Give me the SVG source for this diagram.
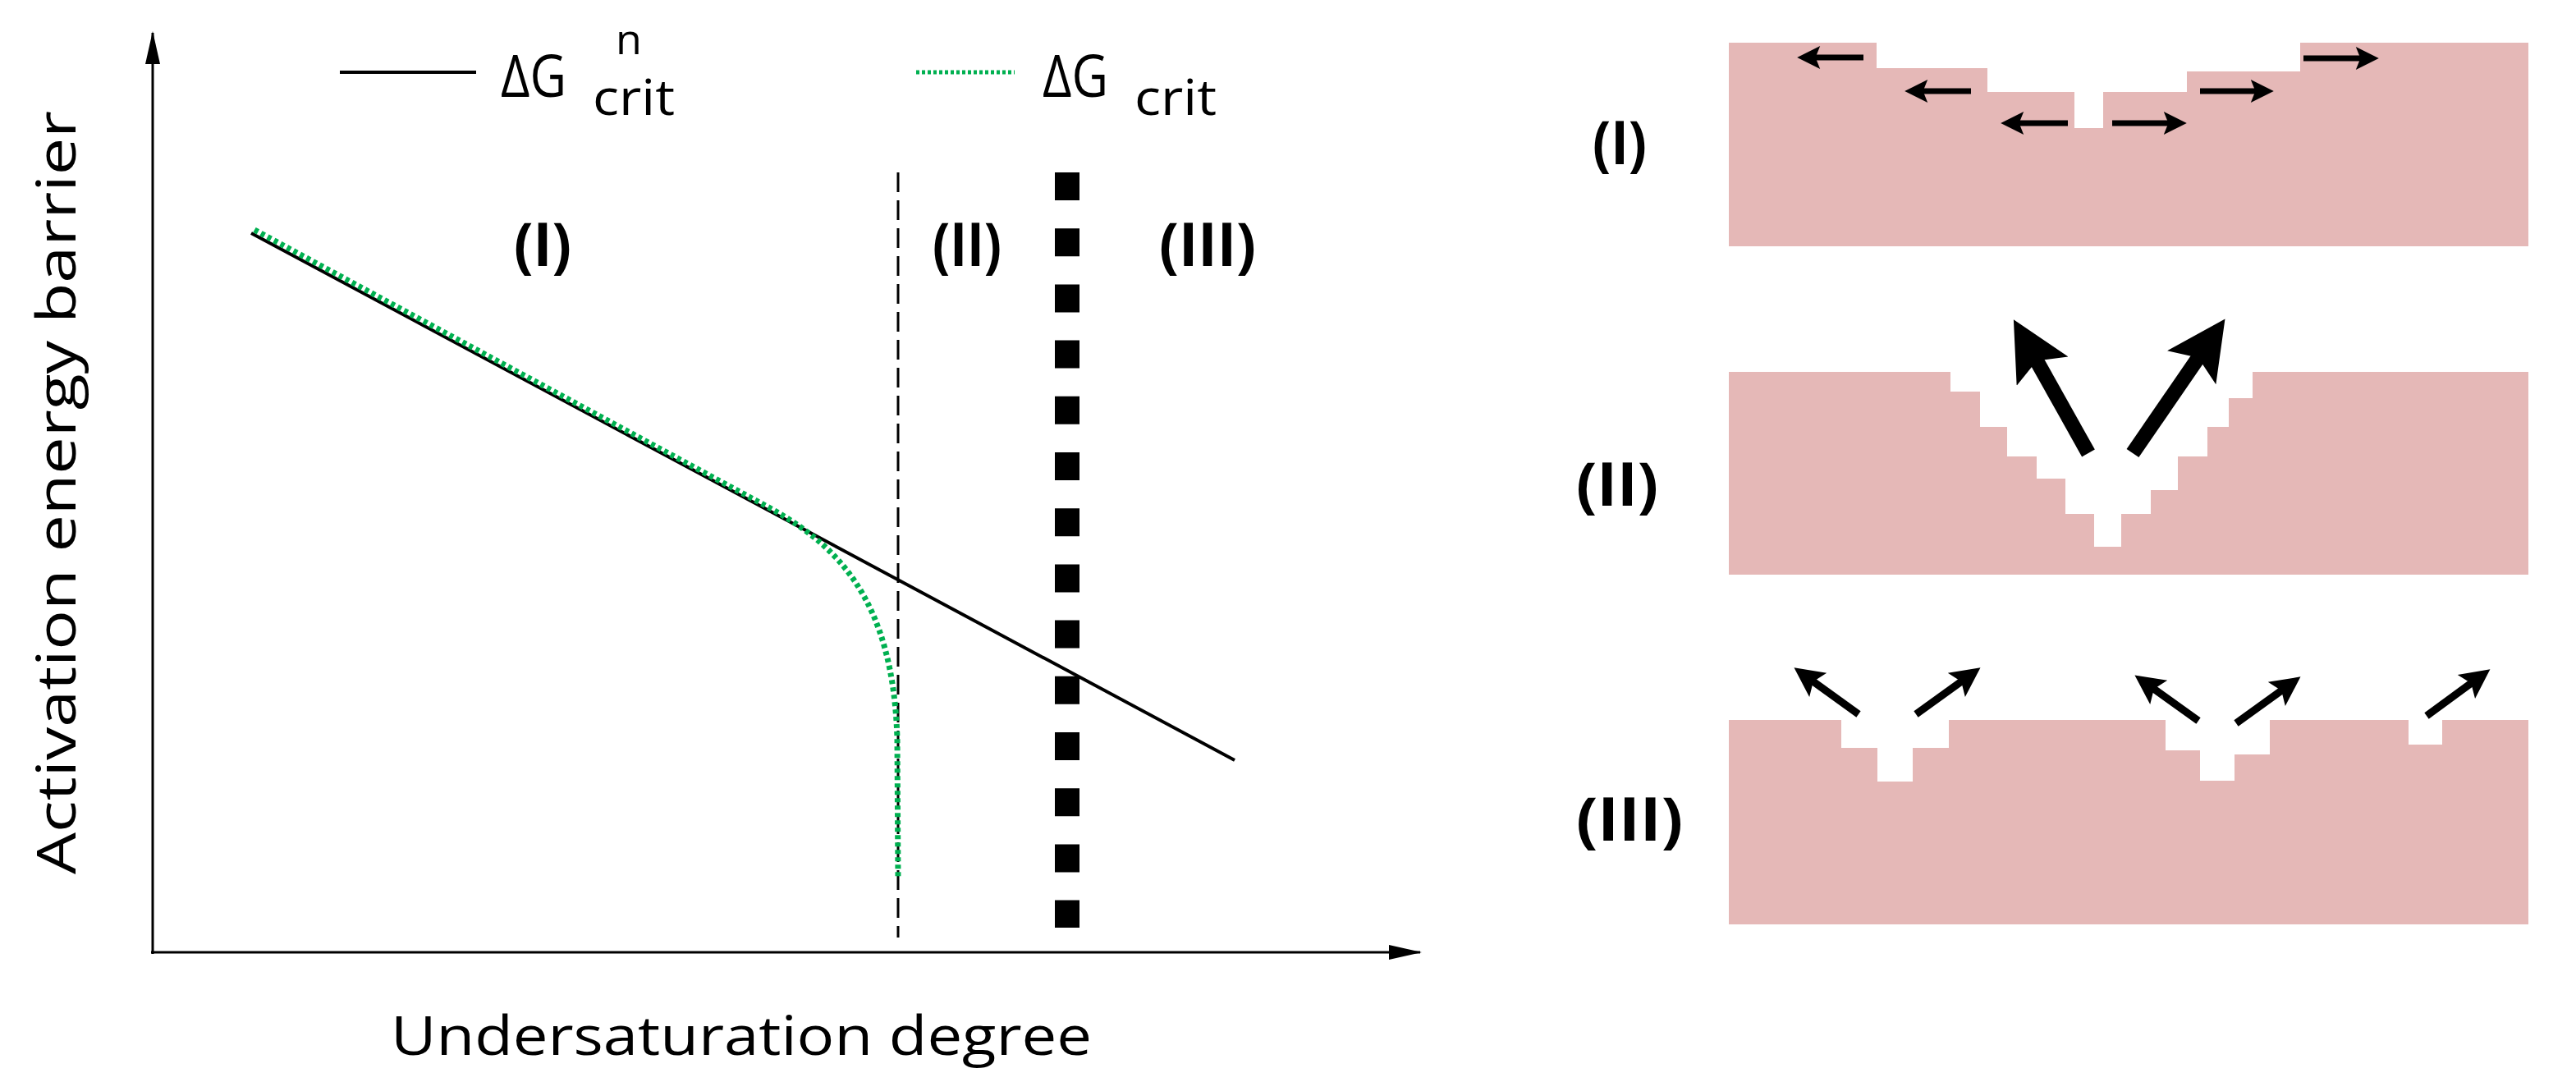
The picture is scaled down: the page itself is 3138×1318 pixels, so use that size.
<svg xmlns="http://www.w3.org/2000/svg" width="3138" height="1318" viewBox="0 0 3138 1318">
<style>
text{font-family:"Open Sans","Liberation Sans",sans-serif;fill:#000}
.lab{font-size:74px;font-weight:bold;text-anchor:middle}
.pink{fill:#E5B8B7}
.arr{stroke:#000;fill:none;marker-end:url(#ah)}
</style>
<defs>
<marker id="ah" viewBox="0 0 10 10" refX="4" refY="5" markerWidth="4.6" markerHeight="4" orient="auto" markerUnits="strokeWidth"><path d="M0,0 L10,5 L0,10 L2,5 z" fill="#000"/></marker>
<marker id="ax" viewBox="0 0 40 18" refX="38" refY="9" markerWidth="40" markerHeight="18" orient="auto" markerUnits="userSpaceOnUse"><path d="M0,0 L40,9 L0,18 z" fill="#000"/></marker>
</defs>
<g id="axes" stroke="#000" stroke-width="3">
<line x1="186" y1="1162" x2="186" y2="40" marker-end="url(#ax)"/>
<line x1="184" y1="1160" x2="1730" y2="1160" marker-end="url(#ax)"/>
</g>
<text x="70" y="600" font-size="66" text-anchor="middle" textLength="930" lengthAdjust="spacingAndGlyphs" transform="rotate(-90 70 600)" dy="22">Activation energy barrier</text>
<text x="903" y="1285" font-size="66" text-anchor="middle" textLength="854" lengthAdjust="spacingAndGlyphs">Undersaturation degree</text>
<g id="legend">
<line x1="414" y1="88" x2="580" y2="88" stroke="#000" stroke-width="4"/>
<text x="610" y="118" font-size="72" textLength="80" lengthAdjust="spacingAndGlyphs">ΔG</text>
<text x="722" y="140" font-size="60" textLength="100" lengthAdjust="spacingAndGlyphs">crit</text>
<text x="750" y="66" font-size="52">n</text>
<line x1="1116" y1="88" x2="1236" y2="88" stroke="#00B050" stroke-width="5" stroke-dasharray="4 3"/>
<text x="1270" y="118" font-size="72" textLength="80" lengthAdjust="spacingAndGlyphs">ΔG</text>
<text x="1382" y="140" font-size="60" textLength="100" lengthAdjust="spacingAndGlyphs">crit</text>
</g>
<g id="boundaries">
<line x1="1094" y1="210" x2="1094" y2="1142" stroke="#000" stroke-width="3" stroke-dasharray="24 10"/>
<line x1="1300" y1="210" x2="1300" y2="1130" stroke="#000" stroke-width="30" stroke-dasharray="34 34.2"/>
</g>
<g id="curves" fill="none">
<line x1="306" y1="284" x2="1504" y2="926" stroke="#000" stroke-width="4"/>
<path d="M310,280 L940,620 C1020,665 1088,730 1093,900 L1094,1070" stroke="#00B050" stroke-width="7" stroke-dasharray="5 4"/>
</g>
<text class="lab" x="661" y="324" textLength="70" lengthAdjust="spacingAndGlyphs">(I)</text>
<text class="lab" x="1178" y="324" textLength="84" lengthAdjust="spacingAndGlyphs">(II)</text>
<text class="lab" x="1471" y="324" textLength="118" lengthAdjust="spacingAndGlyphs">(III)</text>
<text class="lab" x="1973" y="200" textLength="66" lengthAdjust="spacingAndGlyphs">(I)</text>
<text class="lab" x="1970" y="616" textLength="100" lengthAdjust="spacingAndGlyphs">(II)</text>
<text class="lab" x="1985" y="1024" textLength="130" lengthAdjust="spacingAndGlyphs">(III)</text>
<g id="panel1">
<path class="pink" d="M2106,52 H2286 V83 H2421 V112 H2527 V156 H2562 V112 H2664 V87 H2802 V52 H3080 V300 H2106 Z"/>
<g class="arr" stroke-width="7">
<line x1="2270" y1="70" x2="2206" y2="70"/>
<line x1="2401" y1="111" x2="2337" y2="111"/>
<line x1="2519" y1="150" x2="2454" y2="150"/>
<line x1="2573" y1="150" x2="2647" y2="150"/>
<line x1="2680" y1="111" x2="2753" y2="111"/>
<line x1="2806" y1="71" x2="2881" y2="71"/>
</g>
</g>
<g id="panel2">
<path class="pink" d="M2106,453 H2376 V477 H2412 V520 H2445 V556 H2481 V583 H2516 V626 H2551 V666 H2584 V626 H2620 V597 H2653 V556 H2689 V520 H2715 V485 H2744 V453 H3080 V700 H2106 Z"/>
<g class="arr" stroke-width="18">
<line x1="2544" y1="552" x2="2474" y2="427"/>
<line x1="2598" y1="552" x2="2686" y2="424"/>
</g>
</g>
<g id="panel3">
<path class="pink" d="M2106,877 H2243 V911 H2287 V952 H2330 V911 H2374 V877 H2638 V914 H2680 V951 H2722 V919 H2765 V877 H2934 V907 H2975 V877 H3080 V1126 H2106 Z"/>
<g class="arr" stroke-width="9">
<line x1="2264" y1="870" x2="2203" y2="826"/>
<line x1="2334" y1="870" x2="2395" y2="826"/>
<line x1="2678" y1="878" x2="2618" y2="835"/>
<line x1="2724" y1="881" x2="2785" y2="837"/>
<line x1="2956" y1="872" x2="3016" y2="828"/>
</g>
</g>
</svg>
